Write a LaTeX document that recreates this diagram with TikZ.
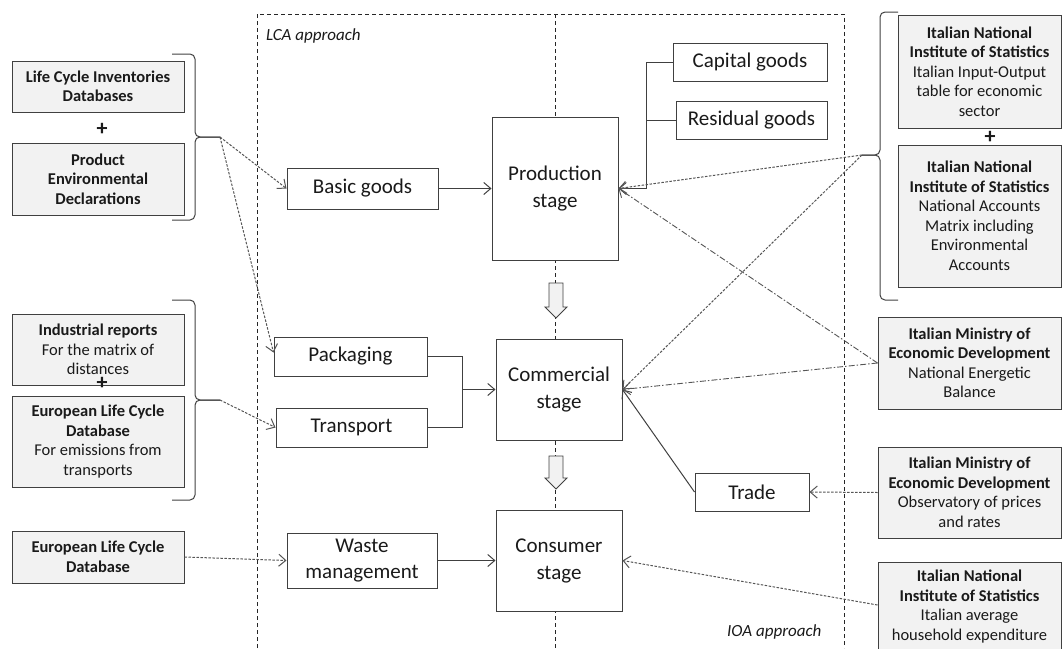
\documentclass[tikz,border=0pt]{standalone}
\usepackage{fontspec}
\setmainfont{Carlito}
\usetikzlibrary{arrows.meta,calc}
\definecolor{boxfill}{HTML}{F2F2F2}
\definecolor{edge}{HTML}{404040}
\definecolor{ink}{HTML}{1A1A1A}
\definecolor{conn}{HTML}{555555}
\begin{document}
\begin{tikzpicture}[x=1pt,y=-1pt,
  stagebox/.style={draw=edge, fill=white, line width=1pt, minimum width=126pt, minimum height=101pt, inner sep=0pt, align=center, font=\fontsize{21}{27}\selectfont, text=ink},
  itembox/.style={draw=edge, fill=white, line width=1pt, inner sep=0pt, align=center, font=\fontsize{21}{26}\selectfont, text=ink, minimum height=39pt},
  srcbox/.style={draw=edge, fill=boxfill, line width=1pt, inner sep=0pt, align=center, font=\fontsize{16.5}{19.5}\selectfont, text=ink},
  srctext/.style={inner sep=0pt, align=center, font=\fontsize{16.5}{19.5}\selectfont, text=ink},
  frameline/.style={draw=black!85, line width=0.9pt, dash pattern=on 4pt off 3pt},
  bracepath/.style={draw=edge, line width=1pt, rounded corners=5pt},
  solidline/.style={draw=edge, line width=1pt},
  dashedarrow/.style={draw=conn, line width=1pt, dash pattern=on 2.5pt off 1.5pt, -{Straight Barb[length=7pt,width=12pt]}},
  dotdasharrow/.style={draw=conn, line width=0.9pt, dash pattern=on 6pt off 2pt on 1.5pt off 2pt, -{Straight Barb[length=7pt,width=12pt]}},
  solidarrow/.style={draw=edge, line width=1pt, -{Straight Barb[length=7pt,width=12pt]}},
  hollow/.style={draw=edge, fill=boxfill, line width=0.9pt},
  plussign/.style={font=\fontsize{22}{22}\selectfont\bfseries, text=ink, inner sep=0pt},
  approach/.style={font=\fontsize{17}{20}\selectfont\itshape, text=ink, inner sep=0pt},
]
\useasboundingbox (0,0) rectangle (1063,648);
\clip (0,0) rectangle (1063,648);

% frame and central divide
\draw[frameline] (257,648) -- (257,14) -- (844,14) -- (844,648);
\draw[frameline] (555,14) -- (555,648);

\node[approach, anchor=west] (lca) at (266,36) {LCA approach};
\node[approach, anchor=west] (ioa) at (727,632) {IOA approach};

% hollow arrows between stages
\draw[hollow] (549,283) -- (563,283) -- (563,307) -- (567,307) -- (556,318) -- (545,307) -- (549,307) -- cycle;
\draw[hollow] (549,456) -- (563,456) -- (563,478) -- (567,478) -- (556,489) -- (545,478) -- (549,478) -- cycle;

% stages
\node[stagebox, minimum height=143pt] (prod) at (555,188.5) {Production\\stage};
\node[stagebox] (comm) at (559,389.5) {Commercial\\stage};
\node[stagebox] (cons) at (559,560.5) {Consumer\\stage};

% item boxes
\node[itembox, minimum width=151pt, minimum height=41pt] (basic) at (362.5,188.5) {Basic goods};
\node[itembox, minimum width=153pt] (pack) at (350.5,356.5) {Packaging};
\node[itembox, minimum width=151pt] (trans) at (351.5,427.5) {Transport};
\node[itembox, minimum width=150pt, minimum height=55pt] (waste) at (362,560.5) {Waste\\management};
\node[itembox, minimum width=114pt, minimum height=38pt] (trade) at (752,492) {Trade};
\node[itembox, minimum width=154pt, minimum height=38pt] (capital) at (750,62) {Capital goods};
\node[itembox, minimum width=151pt, minimum height=38pt] (resid) at (751.5,120) {Residual goods};

% left sources
\node[srcbox, minimum width=172pt, minimum height=51pt] (lci) at (98,86.5) {\textbf{Life Cycle Inventories}\\\textbf{Databases}};
\node[plussign] (plusA) at (102,129) {+};
\node[srcbox, minimum width=172pt, minimum height=72pt] (ped) at (98,179) {\textbf{Product}\\\textbf{Environmental}\\\textbf{Declarations}};
\node[srcbox, minimum width=172pt, minimum height=71pt] (ind) at (98,349.5) {\textbf{Industrial reports}\\For the matrix of\\distances};
\node[srcbox, minimum width=172pt, minimum height=91pt] (eua) at (98,441.5) {\textbf{European Life Cycle}\\\textbf{Database}\\For emissions from\\transports};
\node[plussign] (plusB) at (102,383) {+};
\node[srcbox, minimum width=172pt, minimum height=52pt] (eub) at (98,557) {\textbf{European Life Cycle}\\\textbf{Database}};

% right sources
\node[srcbox, minimum width=163pt, minimum height=113pt] (istatA) at (979.5,71.5) {\textbf{Italian National}\\\textbf{Institute of Statistics}\\Italian Input-Output\\table for economic\\sector};
\node[plussign] (plusC) at (990,137) {+};
\node[srcbox, minimum width=163pt, minimum height=142pt] (istatB) at (979.5,216) {\textbf{Italian National}\\\textbf{Institute of Statistics}\\National Accounts\\Matrix including\\Environmental\\Accounts};
\node[srcbox, minimum width=183pt, minimum height=92pt] (minA) at (969.5,363) {\textbf{Italian Ministry of}\\\textbf{Economic Development}\\National Energetic\\Balance};
\node[srcbox, minimum width=183pt, minimum height=91pt] (minB) at (969.5,492.5) {\textbf{Italian Ministry of}\\\textbf{Economic Development}\\Observatory of prices\\and rates};
\node[srcbox, minimum width=183pt, minimum height=110pt, anchor=north] (istatC) at (969.5,562) {};
\node[srctext, anchor=north] (istatCtext) at (969.5,570) {\textbf{Italian National}\\\textbf{Institute of Statistics}\\Italian average\\household expenditure};

% braces
\coordinate (braceA) at (220,137);
\coordinate (braceB) at (220,400);
\coordinate (braceC) at (862,155);
\draw[bracepath] (172,54) -- (195,54) -- (195,137) -- (braceA);
\draw[bracepath] (braceA) -- (195,137) -- (195,220) -- (172,220);
\draw[bracepath] (172,300) -- (195,300) -- (195,400) -- (braceB);
\draw[bracepath] (braceB) -- (195,400) -- (195,500) -- (172,500);
\draw[bracepath] (898,12) -- (880,12) -- (880,155) -- (braceC);
\draw[bracepath] (braceC) -- (880,155) -- (880,300) -- (898,300);

% solid connectors
\draw[solidarrow] (basic.east) -- (prod.west);
\draw[solidarrow] (capital.west) -- ++(-26,0) |- (prod.east);
\draw[solidline] (resid.west) -- ++(-29,0);
\draw[solidarrow] (pack.east) -- ++(35,0) |- (comm.west);
\draw[solidline] (trans.east) -- ++(35,0) -- ++(0,-38);
\draw[solidarrow] (waste.east) -- (cons.west);
\draw[solidarrow] (trade.west) -- (comm.east);

% source connectors
\draw[dashedarrow] (braceA) -- (basic.west);
\draw[dashedarrow] (braceA) -- ($(pack.west)+(0,-4)$);
\draw[dashedarrow] (braceB) -- (trans.west);
\draw[dashedarrow] (eub.east) -- (waste.west);
\draw[dashedarrow] (braceC) -- (prod.east);
\draw[dashedarrow] (braceC) -- (comm.east);
\draw[dotdasharrow] (minA.west) -- (prod.east);
\draw[dotdasharrow] (minA.west) -- (comm.east);
\draw[dashedarrow] (minB.west) -- (trade.east);
\draw[dashedarrow] ($(istatC.north west)+(0,43)$) -- (cons.east);
\end{tikzpicture}
\end{document}
